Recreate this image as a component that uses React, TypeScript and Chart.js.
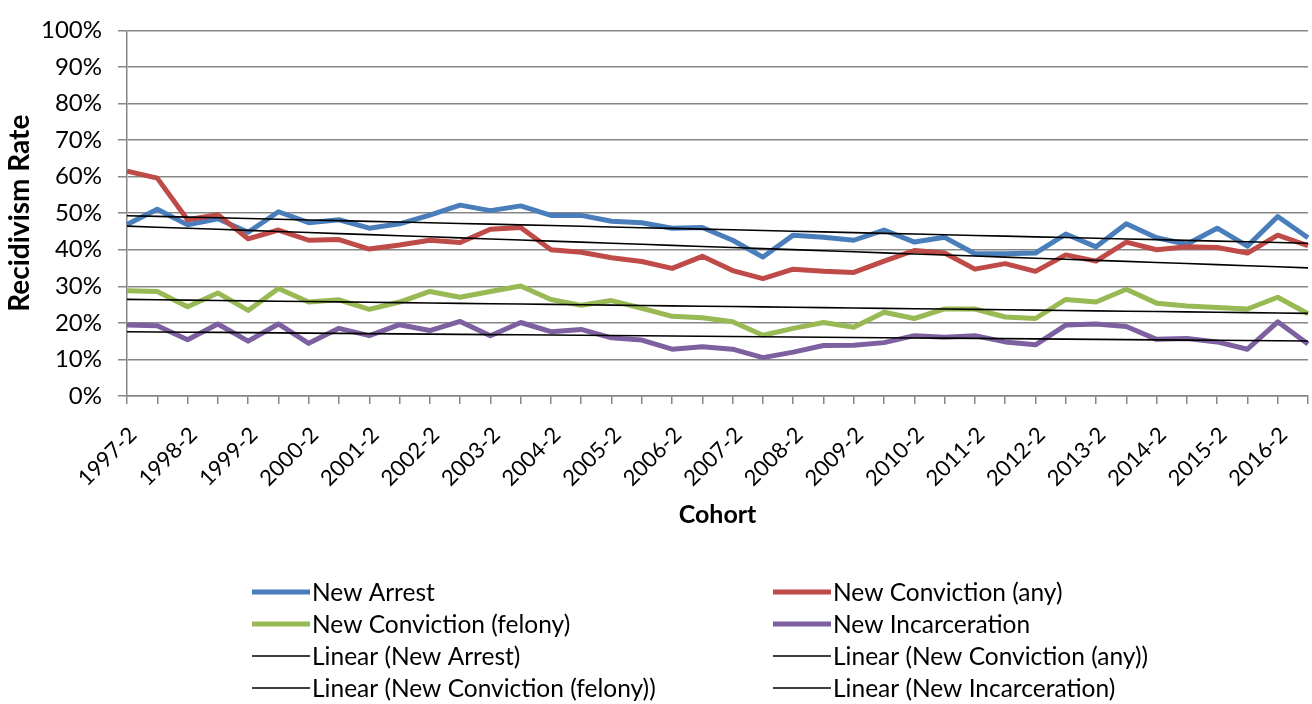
import React, { useEffect, useRef } from "react";
import { Chart, registerables } from "chart.js";

Chart.register(...registerables);

const cohorts = [
  "1997-2", "1998-1", "1998-2", "1999-1", "1999-2", "2000-1", "2000-2", "2001-1",
  "2001-2", "2002-1", "2002-2", "2003-1", "2003-2", "2004-1", "2004-2", "2005-1",
  "2005-2", "2006-1", "2006-2", "2007-1", "2007-2", "2008-1", "2008-2", "2009-1",
  "2009-2", "2010-1", "2010-2", "2011-1", "2011-2", "2012-1", "2012-2", "2013-1",
  "2013-2", "2014-1", "2014-2", "2015-1", "2015-2", "2016-1", "2016-2", "2017-1",
];

const newArrest = [
  46.9, 51.1, 46.8, 48.5, 44.8, 50.4, 47.4, 48.2, 45.9, 47.1,
  49.5, 52.2, 50.7, 52.0, 49.4, 49.4, 47.8, 47.4, 45.9, 46.1,
  42.6, 38.0, 44.0, 43.4, 42.6, 45.4, 42.1, 43.4, 38.9, 38.9,
  39.1, 44.3, 40.8, 47.1, 43.3, 41.5, 45.9, 41.0, 49.1, 43.3,
];

const newConvictionAny = [
  61.5, 59.6, 48.2, 49.6, 43.0, 45.4, 42.6, 42.8, 40.2, 41.3,
  42.6, 42.0, 45.6, 46.1, 40.0, 39.3, 37.8, 36.8, 34.9, 38.2,
  34.3, 32.1, 34.7, 34.1, 33.8, 36.9, 39.8, 39.1, 34.7, 36.2,
  34.1, 38.6, 36.9, 42.1, 40.0, 40.8, 40.6, 39.1, 44.0, 41.1,
];

const newConvictionFelony = [
  28.8, 28.6, 24.4, 28.2, 23.4, 29.4, 25.7, 26.3, 23.7, 25.7,
  28.6, 27.0, 28.6, 30.1, 26.4, 24.8, 26.1, 24.0, 21.8, 21.4,
  20.3, 16.6, 18.5, 20.1, 18.8, 22.9, 21.2, 23.8, 23.8, 21.6,
  21.2, 26.4, 25.7, 29.2, 25.4, 24.6, 24.2, 23.8, 27.0, 22.5,
];

const newIncarceration = [
  19.4, 19.2, 15.4, 19.7, 15.0, 19.7, 14.4, 18.5, 16.5, 19.5,
  17.9, 20.4, 16.5, 20.1, 17.6, 18.2, 15.9, 15.3, 12.8, 13.5,
  12.8, 10.5, 12.0, 13.8, 13.9, 14.6, 16.5, 16.1, 16.5, 14.8,
  14.0, 19.4, 19.7, 19.0, 15.5, 15.7, 14.8, 12.8, 20.3, 14.2,
];

const seriesNames = ["New Arrest", "New Conviction (any)", "New Conviction (felony)", "New Incarceration"];
const seriesColors = ["#4a7ebb", "#be4b48", "#98b954", "#7d60a0"];
const yTicks = [0, 10, 20, 30, 40, 50, 60, 70, 80, 90, 100];

// least-squares linear trendline (as Excel's "Linear" trendline)
function linearFit(values: number[]): number[] {
  const n = values.length;
  let sx = 0, sy = 0, sxx = 0, sxy = 0;
  values.forEach((y, i) => {
    const x = i + 1;
    sx += x; sy += y; sxx += x * x; sxy += x * y;
  });
  const b = (n * sxy - sx * sy) / (n * sxx - sx * sx);
  const a = (sy - b * sx) / n;
  return values.map((_, i) => a + b * (i + 1));
}

const FONT = "Lato, 'Open Sans', sans-serif";

const gridLegend = {
  id: "gridLegend",
  afterDraw(chart: any) {
    const ctx = chart.ctx as CanvasRenderingContext2D;
    const ds = chart.data.datasets;
    ctx.save();
    ctx.font = `24.5px ${FONT}`;
    ctx.textBaseline = "middle";
    ctx.textAlign = "left";
    ds.forEach((d: any, k: number) => {
      const col = k % 2;
      const row = Math.floor(k / 2);
      const x0 = col === 0 ? 252 : 773;
      const y = 592 + row * 32;
      ctx.beginPath();
      ctx.strokeStyle = d.borderColor;
      ctx.lineWidth = d.borderWidth;
      ctx.lineCap = "butt";
      ctx.moveTo(x0, y);
      ctx.lineTo(x0 + 58, y);
      ctx.stroke();
      ctx.fillStyle = "#000";
      ctx.fillText(d.label, x0 + 60, y + 1);
    });
    ctx.restore();
  },
};

export default function App() {
  const ref = useRef<HTMLCanvasElement | null>(null);

  useEffect(() => {
    document.body.style.margin = "0";
    if (!ref.current) return;
    const series = [newArrest, newConvictionAny, newConvictionFelony, newIncarceration];
    const main = series.map((vals, i) => ({
      label: seriesNames[i],
      data: vals,
      borderColor: seriesColors[i],
      backgroundColor: seriesColors[i],
      borderWidth: 5,
      pointRadius: 0,
      tension: 0,
      borderJoinStyle: "round" as const,
      order: 4 - i,
    }));
    const trends = series.map((vals, i) => ({
      label: `Linear (${seriesNames[i]})`,
      data: linearFit(vals),
      borderColor: "#000000",
      backgroundColor: "#000000",
      borderWidth: 1.6,
      pointRadius: 0,
      tension: 0,
      order: 0,
    }));

    const chart = new Chart(ref.current, {
      type: "line",
      data: { labels: cohorts, datasets: [...main, ...trends] },
      plugins: [gridLegend],
      options: {
        animation: false,
        responsive: false,
        maintainAspectRatio: false,
        layout: { padding: { top: 14, right: 4, bottom: 144, left: 0 } },
        plugins: {
          legend: { display: false },
          tooltip: { enabled: false },
          title: { display: false },
        },
        scales: {
          x: {
            type: "category",
            offset: false,
            grid: {
              drawOnChartArea: false,
              drawTicks: true,
              tickLength: 8,
              color: "#868686",
              lineWidth: 1.5,
            },
            border: { color: "#868686", width: 1.5 },
            ticks: {
              autoSkip: false,
              minRotation: 45,
              maxRotation: 45,
              padding: 18,
              labelOffset: 6,
              color: "#000",
              font: { family: FONT, size: 22 },
              callback: (_v: any, i: number) => (i % 2 === 0 ? cohorts[i] : ""),
            },
            title: {
              display: true,
              text: "Cohort",
              color: "#000",
              font: { family: FONT, size: 25, weight: "bold" },
              padding: { top: 0, bottom: 30 },
            },
            afterFit: (scale: any) => {
              scale.height = 164;
              scale.paddingLeft = 0;
              scale.paddingRight = 0;
            },
          },
          y: {
            min: 0,
            max: 100,
            afterBuildTicks: (scale: any) => {
              scale.ticks = yTicks.map((v) => ({ value: v }));
            },
            grid: {
              color: "#868686",
              lineWidth: 1.5,
              drawTicks: true,
              tickLength: 9,
            },
            border: { color: "#868686", width: 1.5 },
            ticks: {
              padding: 16,
              color: "#000",
              font: { family: FONT, size: 24 },
              callback: (v: any) => `${v}%`,
            },
            title: {
              display: true,
              text: "Recidivism Rate",
              color: "#000",
              font: { family: FONT, size: 28, weight: "bold" },
              padding: { top: 3, bottom: 0 },
            },
            afterFit: (scale: any) => {
              scale.width = 127;
            },
          },
        },
      },
    });
    return () => chart.destroy();
  }, []);

  return (
    <div style={{ width: 1312, height: 704, background: "#fff" }}>
      <canvas ref={ref} width={1312} height={704} style={{ display: "block" }} />
    </div>
  );
}
